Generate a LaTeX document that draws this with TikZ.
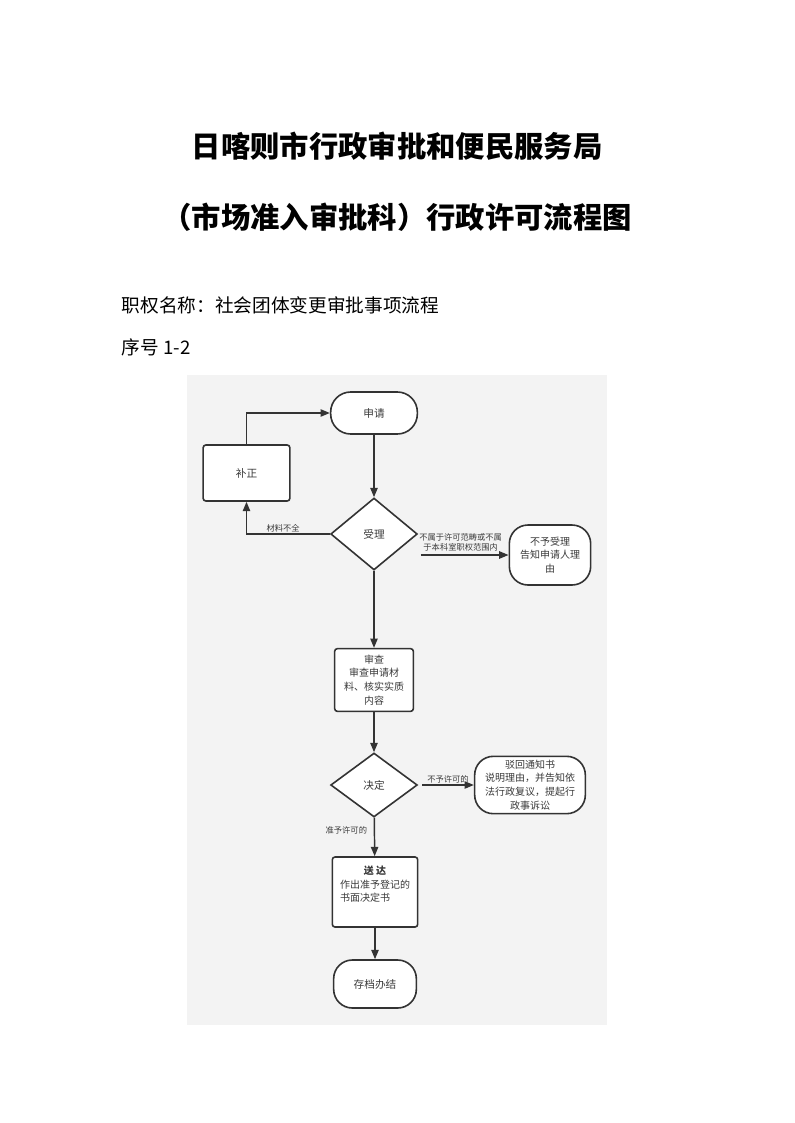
\documentclass[tikz,border=0pt]{standalone}
\usepackage{fontspec}
\setmainfont{Noto Sans CJK SC}
\usetikzlibrary{arrows.meta,shapes.geometric}
\definecolor{lineg}{HTML}{333333}
\definecolor{txtg}{HTML}{3A3A3A}
\definecolor{bgg}{HTML}{F3F3F3}

\begin{document}
\begin{tikzpicture}[
  x=0.75pt, y=-0.75pt,
  >={Triangle[length=7pt,width=5.5pt]},
  conn/.style={draw=lineg, line width=1.1pt},
  box/.style={rectangle,draw=lineg,line width=1.2pt,fill=white,rounded corners=2pt,align=center,
    text=txtg,inner sep=1pt,font=\fontsize{7.5}{10.3}\selectfont},
  term/.style={box,rounded corners=14pt},
  dec/.style={diamond,draw=lineg,line width=1.2pt,fill=white,inner sep=0,text=txtg,font=\fontsize{8}{10}\selectfont},
  lbl/.style={text=txtg,inner sep=1pt,align=center,font=\fontsize{6.2}{7.6}\selectfont},
]
  \useasboundingbox (0,0) rectangle (794,1123);

  % heading
  \node[font=\fontsize{22}{26}\selectfont\bfseries] (t1) at (397,146) {日喀则市行政审批和便民服务局};
  \node[font=\fontsize{22}{26}\selectfont\bfseries] (t2) at (397,217) {（市场准入审批科）行政许可流程图};
  \node[anchor=west,font=\fontsize{14}{16}\selectfont] (zq) at (117,305) {职权名称：社会团体变更审批事项流程};
  \node[anchor=west,font=\fontsize{14}{16}\selectfont] (xh) at (117,347) {序号 1-2};

  \fill[bgg] (187,375) rectangle (607,1025);

  % flow
  \node[term,minimum width=65pt,minimum height=31.5pt,rounded corners=15pt,font=\fontsize{8}{10}\selectfont] (sq) at (374,413) {申请};
  \node[box,minimum width=65pt,minimum height=42pt,font=\fontsize{8}{10}\selectfont] (bz) at (246.5,473) {补正};
  \node[dec,minimum width=65pt,minimum height=54pt] (sl) at (374,534) {受理};
  \node[term,minimum width=61pt,minimum height=45pt] (by) at (550,555) {不予受理\\告知申请人理\\由};
  \node[box,minimum width=59pt,minimum height=47pt] (sc) at (374,680) {审查\\审查申请材\\料、核实实质\\内容};
  \node[dec,minimum width=65pt,minimum height=48pt] (jd) at (374,785) {决定};
  \node[term,minimum width=83pt,minimum height=43pt] (bh) at (530,785) {驳回通知书\\说明理由，并告知依\\法行政复议，提起行\\政事诉讼};
  \node[box,minimum width=64pt,minimum height=52.5pt,align=left] (sd) at (375,892) {\makebox[7em]{\textbf{送 达}}\\作出准予登记的\\书面决定书\\[2pt]};
  \node[term,minimum width=62pt,minimum height=36pt,font=\fontsize{8}{10}\selectfont] (cd) at (375,984) {存档办结};

  \foreach \a/\b in {sq/sl, sl/sc, sc/jd, sd/cd}
    \draw[conn,->] (\a) -- (\b);

  \draw[conn,->] (sl.west) -| node[lbl,pos=0.28,above] {材料不全} (bz.south);
  \draw[conn,->] (bz.north) |- (sq.west);
  \draw[conn,->] ([xshift=2pt]sl.east |- by.west) -- node[lbl,above=1.5pt,xshift=-3pt] {不属于许可范畴或不属\\于本科室职权范围内} (by.west);
  \draw[conn,->] ([xshift=3pt]jd.east) -- node[lbl,above] {不予许可的} (bh.west);
  \draw[conn,->] (jd) -- node[lbl,left=4pt,pos=0.32] {准予许可的} (sd);
\end{tikzpicture}
\end{document}
